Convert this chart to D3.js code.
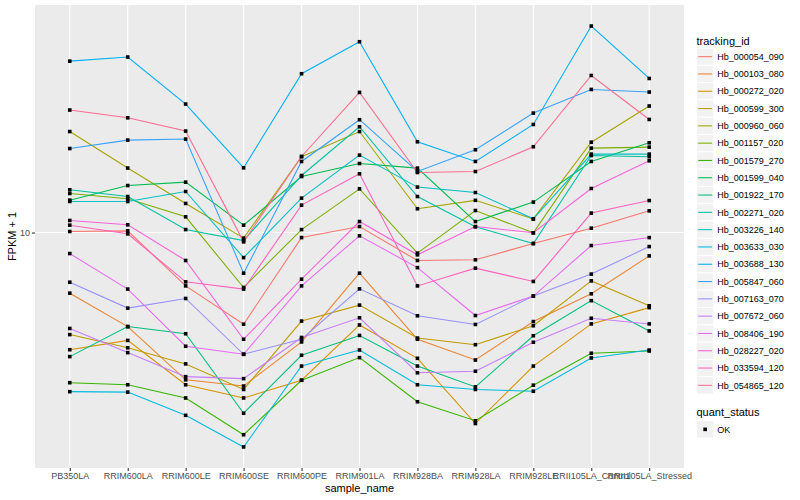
<!DOCTYPE html>
<html>
<head>
<meta charset="utf-8">
<script src="https://cdn.jsdelivr.net/npm/d3@7"></script>
<style>
	body { margin: 0; background: #ffffff; }
	text { font-family: "Liberation Sans", Arial, Helvetica, sans-serif; }
</style>
</head>
<body>
<svg id="fig" width="800" height="500"></svg>
<script>

// DATA ========================================================================= //

var samples = ["PB350LA", "RRIM600LA", "RRIM600LE", "RRIM600SE", "RRIM600PE", "RRIM901LA",
	"RRIM928BA", "RRIM928LA", "RRIM928LE", "RRII105LA_Control", "RRII105LA_Stressed"];

var trackingIds = ["Hb_000054_090", "Hb_000103_080", "Hb_000272_020", "Hb_000599_300",
	"Hb_000960_060", "Hb_001157_020", "Hb_001579_270", "Hb_001599_040", "Hb_001922_170",
	"Hb_002271_020", "Hb_003226_140", "Hb_003633_030", "Hb_003688_130", "Hb_005847_060",
	"Hb_007163_070", "Hb_007672_060", "Hb_008406_190", "Hb_028227_020", "Hb_033594_120",
	"Hb_054865_120"];

// FPKM + 1, one array per tracking_id, in sample order
var hb000054 = [10.08, 10.13, 6.64, 4.95, 9.62, 10.47, 8.07, 8.11, 9.19, 10.34, 11.81];
var hb000103 = [6.28, 4.86, 3.23, 3.08, 4.32, 7.32, 4.41, 3.76, 5.05, 6.25, 8.36];
var hb000272 = [4.07, 4.37, 3.11, 2.81, 3.22, 4.92, 3.81, 2.31, 3.59, 4.96, 5.62];
var hb000599 = [4.57, 4.13, 3.65, 3.00, 5.07, 5.73, 4.45, 4.23, 4.89, 6.90, 5.70];
var hb000960 = [21.7, 16.4, 12.5, 9.58, 17.9, 21.7, 12.0, 12.8, 11.1, 20.0, 26.4];
var hb001157 = [13.49, 12.95, 11.28, 6.56, 10.23, 13.98, 8.54, 11.84, 9.98, 19.11, 19.26];
var hb001579 = [3.16, 3.11, 2.81, 2.12, 3.22, 3.83, 2.73, 2.36, 3.10, 3.96, 4.03];
var hb001599 = [12.82, 14.34, 14.72, 10.58, 15.37, 16.98, 16.39, 10.88, 12.63, 17.25, 19.91];
var hb001922 = [3.86, 4.86, 4.60, 2.50, 3.90, 4.54, 3.59, 3.06, 4.53, 5.93, 4.70];
var hb002271 = [13.88, 13.18, 10.23, 9.40, 15.49, 22.51, 13.18, 10.45, 9.19, 18.06, 17.88];
var hb003226 = [12.69, 12.69, 13.70, 8.25, 13.02, 18.11, 14.17, 13.59, 11.11, 18.25, 18.25];
var hb003633 = [2.95, 2.94, 2.46, 1.93, 3.59, 4.06, 3.11, 3.00, 2.96, 3.82, 4.06];
var hb003688 = [37.25, 38.43, 26.79, 16.43, 33.81, 43.22, 20.06, 17.25, 22.91, 48.75, 32.61];
var hb005847 = [19.05, 20.32, 20.48, 7.32, 17.25, 23.76, 15.97, 18.87, 25.00, 29.97, 29.38];
var hb007163 = [6.83, 5.60, 6.03, 3.93, 4.41, 6.49, 5.28, 4.94, 6.14, 7.27, 8.98];
var hb007672 = [4.79, 3.98, 3.31, 3.26, 4.47, 5.20, 3.41, 3.45, 4.31, 5.18, 4.96];
var hb008406 = [8.51, 6.48, 4.18, 3.93, 6.64, 9.75, 7.64, 5.29, 6.14, 9.05, 9.62];
var hb028227 = [10.97, 10.61, 8.07, 4.41, 6.99, 10.88, 8.43, 10.47, 9.98, 14.02, 17.34];
var hb033594 = [10.58, 9.90, 6.85, 6.48, 12.34, 15.69, 6.64, 7.61, 6.87, 11.61, 12.78];
var hb054865 = [25.59, 24.11, 21.78, 9.31, 17.92, 29.30, 15.85, 15.97, 19.31, 33.37, 23.81];

var seriesValues = [hb000054, hb000103, hb000272, hb000599, hb000960, hb001157, hb001579,
	hb001599, hb001922, hb002271, hb003226, hb003633, hb003688, hb005847, hb007163,
	hb007672, hb008406, hb028227, hb033594, hb054865];

var yTicks = [10];
var statusLevels = ["OK"];

// ggplot default hue palette, 20 levels
var palette = ["#F8766D", "#EA8331", "#D89000", "#C09B00", "#A3A500", "#7CAE00", "#39B600",
	"#00BB4E", "#00BF7D", "#00C1A3", "#00BFC4", "#00BAE0", "#00B0F6", "#35A2FF", "#9590FF",
	"#C77CFF", "#E76BF3", "#FA62DB", "#FF62BC", "#FF6C91"];

// SETUP ======================================================================== //

var width = 800,
	height = 500,
	m = [5, 116, 32, 35],   // top, right, bottom, left of the panel
	pL = m[3],
	pR = width - m[1],
	pT = m[0],
	pB = height - m[2];

var svg = d3.select("#fig");

var series = trackingIds.map(function(id, i) {
	return {
		id: id,
		colour: palette[i],
		values: seriesValues[i].map(function(v, j) { return {sample: samples[j], value: v}; })
	};
});

var xScale = d3.scalePoint()
	.domain(samples)
	.range([pL, pR])
	.padding(0.6);

// log scale, expanded 5% each side like ggplot
var ext = d3.extent(d3.merge(seriesValues)),
	lo = Math.log10(ext[0]),
	hi = Math.log10(ext[1]),
	pad = (hi - lo) * 0.05;

var yScale = d3.scaleLog()
	.domain([Math.pow(10, lo - pad), Math.pow(10, hi + pad)])
	.range([pB, pT]);

// DRAW ========================================================================= //

svg.append("rect")
	.attr("x", pL)
	.attr("y", pT)
	.attr("width", pR - pL)
	.attr("height", pB - pT)
	.attr("fill", "#ebebeb");

svg.append("g")
	.selectAll("line")
	.data(samples)
	.enter()
	.append("line")
	.attr("x1", d => xScale(d))
	.attr("x2", d => xScale(d))
	.attr("y1", pT)
	.attr("y2", pB)
	.attr("stroke", "#ffffff")
	.attr("stroke-width", 1.07);

svg.append("g")
	.selectAll("line")
	.data(yTicks)
	.enter()
	.append("line")
	.attr("x1", pL)
	.attr("x2", pR)
	.attr("y1", d => yScale(d))
	.attr("y2", d => yScale(d))
	.attr("stroke", "#ffffff")
	.attr("stroke-width", 1.07);

var line = d3.line()
	.x(d => xScale(d.sample))
	.y(d => yScale(d.value));

svg.append("g")
	.selectAll("path")
	.data(series)
	.enter()
	.append("path")
	.attr("d", d => line(d.values))
	.attr("fill", "none")
	.attr("stroke", d => d.colour)
	.attr("stroke-width", 1.07);

var ps = 3.6;
svg.append("g")
	.selectAll("rect")
	.data(d3.merge(series.map(d => d.values)))
	.enter()
	.append("rect")
	.attr("x", d => xScale(d.sample) - ps / 2)
	.attr("y", d => yScale(d.value) - ps / 2)
	.attr("width", ps)
	.attr("height", ps)
	.attr("fill", "#000000");

// axes
var xAxis = d3.axisBottom(xScale).tickSize(3).tickPadding(2);
var gx = svg.append("g")
	.attr("transform", `translate(0,${pB})`)
	.call(xAxis);
gx.select(".domain").remove();
gx.selectAll(".tick line").attr("stroke", "#333333").attr("stroke-width", 1.07);
gx.selectAll(".tick text")
	.attr("fill", "#4d4d4d")
	.attr("font-size", 9)
	.attr("font-family", "Liberation Sans, Arial, sans-serif");

var yAxis = d3.axisLeft(yScale).tickValues(yTicks).tickFormat(d3.format("d")).tickSize(3).tickPadding(2);
var gy = svg.append("g")
	.attr("transform", `translate(${pL},0)`)
	.call(yAxis);
gy.select(".domain").remove();
gy.selectAll(".tick line").attr("stroke", "#333333").attr("stroke-width", 1.07);
gy.selectAll(".tick text")
	.attr("fill", "#4d4d4d")
	.attr("font-size", 9)
	.attr("font-family", "Liberation Sans, Arial, sans-serif");

svg.append("text")
	.attr("x", (pL + pR) / 2)
	.attr("y", 492)
	.attr("text-anchor", "middle")
	.attr("font-size", 11)
	.attr("fill", "#000000")
	.text("sample_name");

svg.append("text")
	.attr("transform", `translate(16,${(pT + pB) / 2}) rotate(-90)`)
	.attr("text-anchor", "middle")
	.attr("font-size", 11)
	.attr("fill", "#000000")
	.text("FPKM + 1");

// legend: tracking_id
var lx = 696.5,
	ly = 48,
	ks = 17.3;

svg.append("text")
	.attr("x", lx)
	.attr("y", 44.5)
	.attr("font-size", 11)
	.attr("fill", "#000000")
	.text("tracking_id");

var keys = svg.append("g")
	.selectAll("g")
	.data(series)
	.enter()
	.append("g")
	.attr("transform", (d, i) => `translate(${lx},${ly + i * ks})`);
keys.append("rect")
	.attr("width", ks)
	.attr("height", ks)
	.attr("fill", "#f2f2f2")
	.attr("stroke", "#ffffff")
	.attr("stroke-width", 1);
keys.append("line")
	.attr("x1", 1.7)
	.attr("x2", ks - 1.7)
	.attr("y1", ks / 2)
	.attr("y2", ks / 2)
	.attr("stroke", d => d.colour)
	.attr("stroke-width", 1.07);
keys.append("text")
	.attr("x", ks + 3.5)
	.attr("y", ks / 2 + 3.2)
	.attr("font-size", 9)
	.attr("fill", "#000000")
	.text(d => d.id);

// legend: quant_status
svg.append("text")
	.attr("x", lx)
	.attr("y", 416)
	.attr("font-size", 11)
	.attr("fill", "#000000")
	.text("quant_status");

var sKeys = svg.append("g")
	.selectAll("g")
	.data(statusLevels)
	.enter()
	.append("g")
	.attr("transform", (d, i) => `translate(${lx},${420.7 + i * ks})`);
sKeys.append("rect")
	.attr("width", ks)
	.attr("height", ks)
	.attr("fill", "#f2f2f2")
	.attr("stroke", "#ffffff");
sKeys.append("rect")
	.attr("x", ks / 2 - ps / 2)
	.attr("y", ks / 2 - ps / 2)
	.attr("width", ps)
	.attr("height", ps)
	.attr("fill", "#000000");
sKeys.append("text")
	.attr("x", ks + 3.5)
	.attr("y", ks / 2 + 3.2)
	.attr("font-size", 9)
	.attr("fill", "#000000")
	.text(d => d);

</script>
</body>
</html>
